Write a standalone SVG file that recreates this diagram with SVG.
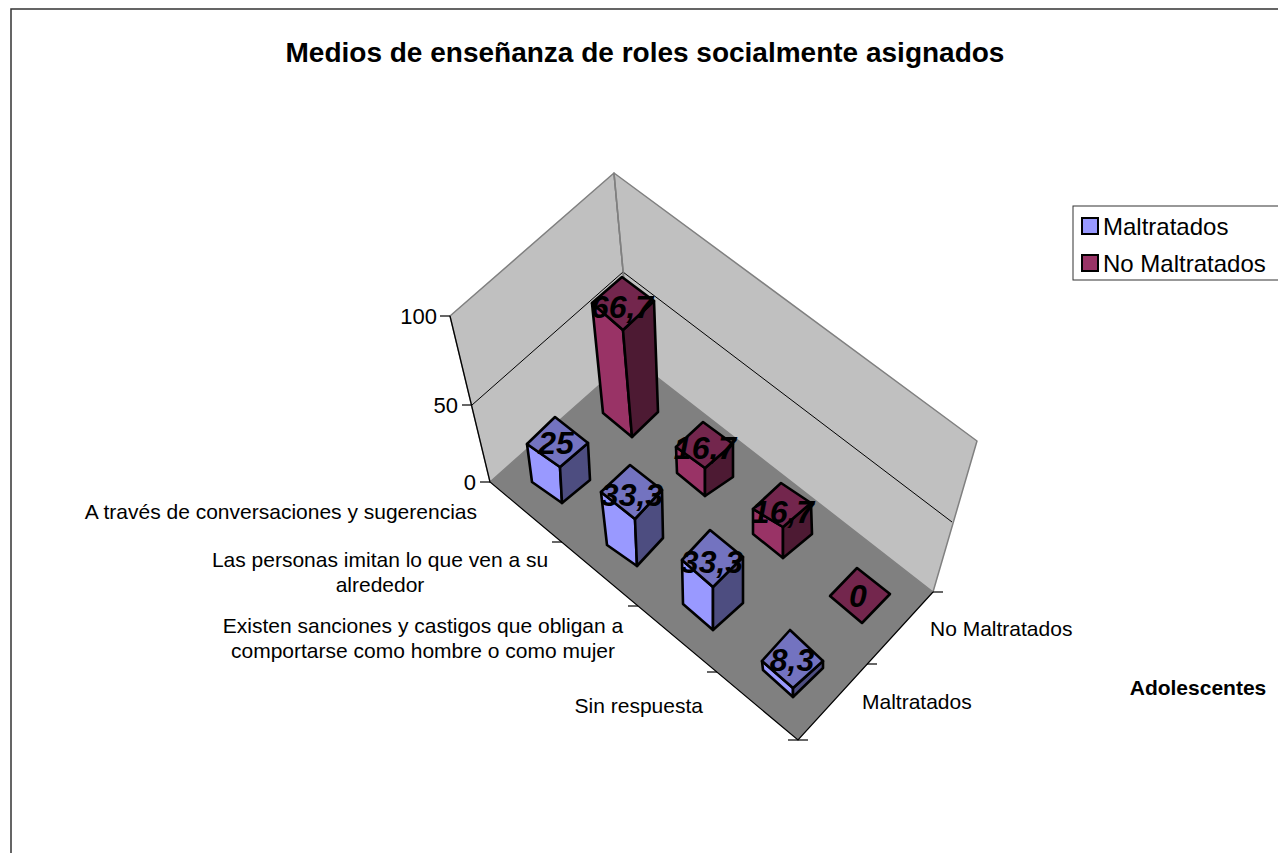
<svg xmlns="http://www.w3.org/2000/svg" width="1278" height="853" viewBox="0 0 1278 853">
<style>
text{font-family:"Liberation Sans",Arial,sans-serif;fill:#000}
.title{font-size:28px;font-weight:bold}
.lab{font-size:21px}
.num{font-size:22px;text-anchor:end}
.leg{font-size:24px}
.val{font-size:32px;font-weight:bold;font-style:italic;text-anchor:middle}
.wall{fill:#C0C0C0;stroke:#808080;stroke-width:1.5;stroke-linejoin:round}
.floor{fill:#808080;stroke:none}
.ax{stroke:#000;stroke-width:1.2;fill:none}
.grid{stroke:#000;stroke-width:1;fill:none}
.bar polygon{stroke:#000;stroke-width:2.6;stroke-linejoin:round}
.mL{fill:#9999FF}.mR{fill:#4D4D80}.mT{fill:#7373C0}
.nL{fill:#993366}.nR{fill:#4D1A33}.nT{fill:#73264D}
</style>
<rect x="11" y="9" width="1300" height="900" fill="#fff" stroke="#333" stroke-width="1.5"/>
<text class="title" x="645" y="62" text-anchor="middle">Medios de enseñanza de roles socialmente asignados</text>
<g id="plot">
<polygon class="wall" points="450,316 614,173 631,357 490,482"/>
<polygon class="wall" points="614,173 977,441 933,592 631,357"/>
<polygon class="floor" points="490,482 631,357 933,592 798,740"/>
<polyline class="grid" points="472,405 623,272 952,522"/>
<line x1="614" y1="173" x2="631" y2="357" stroke="#808080" stroke-width="1.5"/>
</g>
<g id="axes">
<polyline class="ax" points="450,316 490,482 798,740 933,592"/>
<line class="ax" x1="440" y1="316" x2="450" y2="316"/>
<line class="ax" x1="462" y1="405" x2="472" y2="405"/>
<line class="ax" x1="480" y1="482" x2="490" y2="482"/>
<line class="ax" x1="552" y1="542" x2="562" y2="542"/>
<line class="ax" x1="628" y1="606" x2="638" y2="606"/>
<line class="ax" x1="707" y1="672" x2="717" y2="672"/>
<line class="ax" x1="788" y1="740" x2="808" y2="740"/>
<line class="ax" x1="867" y1="664" x2="877" y2="664"/>
<line class="ax" x1="933" y1="592" x2="943" y2="592"/>
<text class="num" x="437" y="324">100</text>
<text class="num" x="458" y="413">50</text>
<text class="num" x="476" y="490">0</text>
<text class="lab" x="477" y="519" text-anchor="end">A través de conversaciones y sugerencias</text>
<text class="lab" x="380" y="567" text-anchor="middle">Las personas imitan lo que ven a su</text>
<text class="lab" x="380" y="592" text-anchor="middle">alrededor</text>
<text class="lab" x="423" y="633" text-anchor="middle">Existen sanciones y castigos que obligan a</text>
<text class="lab" x="423" y="658" text-anchor="middle">comportarse como hombre o como mujer</text>
<text class="lab" x="703" y="713" text-anchor="end">Sin respuesta</text>
<text class="lab" x="930" y="636">No Maltratados</text>
<text class="lab" x="862" y="709">Maltratados</text>
<text class="lab" x="1198" y="695" text-anchor="middle" font-weight="bold">Adolescentes</text>
</g>
<g id="bar-n1" class="bar">
<polygon class="nL" points="592,303 623,330 632,437 603,413"/>
<polygon class="nR" points="623,330 654,301 658,412 632,437"/>
<polygon class="nT" points="622,277 654,301 623,330 592,303"/>
</g>
<g id="bar-n2" class="bar">
<polygon class="nL" points="676,447 705,468 705,496 677,473"/>
<polygon class="nR" points="705,468 733,444 733,477 705,496"/>
<polygon class="nT" points="703,422 733,444 705,468 676,447"/>
</g>
<g id="bar-m1" class="bar">
<polygon class="mL" points="527,444 560,467 562,503 532,482"/>
<polygon class="mR" points="560,467 588,443 590,480 562,503"/>
<polygon class="mT" points="555,417 588,443 560,467 527,444"/>
</g>
<g id="bar-n3" class="bar">
<polygon class="nL" points="753,509 783,527 783,558 753,534"/>
<polygon class="nR" points="783,527 811,503 812,534 783,558"/>
<polygon class="nT" points="781,483 811,503 783,527 753,509"/>
</g>
<g id="bar-m2" class="bar">
<polygon class="mL" points="601,492 635,519 637,566 607,545"/>
<polygon class="mR" points="635,519 662,490 663,538 637,566"/>
<polygon class="mT" points="630,465 662,490 635,519 601,492"/>
</g>
<g id="bar-n4" class="bar">
<polygon class="nT" points="857,568 890,594 862,623 830,596"/>
</g>
<g id="bar-m3" class="bar">
<polygon class="mL" points="682,560 713,587 713,630 683,604"/>
<polygon class="mR" points="713,587 743,557 743,603 713,630"/>
<polygon class="mT" points="710,530 743,557 713,587 682,560"/>
</g>
<g id="bar-m4" class="bar">
<polygon class="mL" points="762,661 793,688 793,697 763,670"/>
<polygon class="mR" points="793,688 823,661 823,668 793,697"/>
<polygon class="mT" points="790,630 823,661 793,688 762,661"/>
</g>
<g id="values">
<text class="val" x="622" y="318">66,7</text>
<text class="val" x="556" y="454">25</text>
<text class="val" x="705" y="459">16,7</text>
<text class="val" x="632" y="506">33,3</text>
<text class="val" x="783" y="523">16,7</text>
<text class="val" x="712" y="573">33,3</text>
<text class="val" x="858" y="607">0</text>
<text class="val" x="792" y="671">8,3</text>
</g>
<g id="legend">
<rect x="1073" y="206" width="250" height="74" fill="#fff" stroke="#333" stroke-width="1"/>
<rect x="1082" y="218" width="16" height="16" fill="#9999FF" stroke="#000" stroke-width="2"/>
<rect x="1082" y="255" width="16" height="16" fill="#993366" stroke="#000" stroke-width="2"/>
<text class="leg" x="1103" y="235">Maltratados</text>
<text class="leg" x="1103" y="272">No Maltratados</text>
</g>
</svg>
